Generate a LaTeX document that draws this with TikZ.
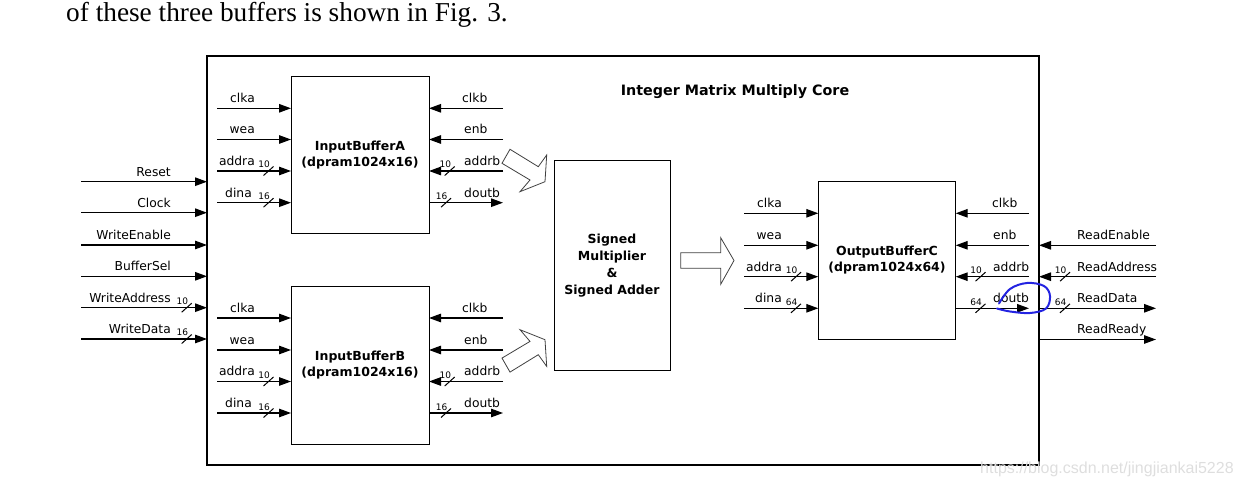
\documentclass[tikz,border=0pt]{standalone}
\usepackage{fontspec}
\setmainfont{DejaVu Sans}
\newfontfamily\serifcap{Liberation Serif}
\newfontfamily\wmfont{Liberation Sans}
\usetikzlibrary{arrows.meta}
\definecolor{annot}{RGB}{35,35,225}
\definecolor{wmgray}{RGB}{222,222,222}
\newcommand\sigIn[4]{\coordinate (#1) at (#2,#3); \draw[sig] (#1) -- (#1 -| #4);}
\newcommand\sigOut[4]{\coordinate (#1) at (#2,#3); \draw[sig] (#1 -| #4) -- (#1);}
\newcommand\lblE[4]{\node[lbl,anchor=base east] (#1) at (#2,{#3-5.5}) {#4};}
\newcommand\lblW[4]{\node[lbl,anchor=base west] (#1) at (#2,{#3-5.5}) {#4};}
\newcommand\busw[4]{\node[busn,anchor=base east] (#1) at ({#2+1.5},{#3-3}) {#4}; \draw[slash] ({#2-5},{#3+4.5}) -- ({#2+5},{#3-4.5});}
\begin{document}
\begin{tikzpicture}[x=1pt,y=-1pt,
  sig/.style={line width=1.2pt,-{Triangle[length=12pt,width=8.5pt]}},
  slash/.style={line width=1pt},
  lbl/.style={font=\fontsize{12.3}{14}\selectfont,inner sep=0pt},
  busn/.style={font=\fontsize{9}{10}\selectfont,inner sep=0pt},
  box/.style={draw,line width=1pt,outer sep=0pt,inner sep=0pt,align=center,
    font=\bfseries\fontsize{12.5}{16}\selectfont},
  blockarrow/.style={draw=black!75,line width=0.8pt,fill=white}]
\useasboundingbox (0,0) rectangle (1243,486);
% caption line and watermark
\node[font=\serifcap\fontsize{27.3}{30}\selectfont,anchor=base west,inner sep=0pt] (cap) at (66,22) {of these three buffers is shown in Fig. 3.};
% outer box
\node[draw,line width=2.5pt,outer sep=0pt,minimum width=832pt,minimum height=409pt] (outer) at (623,260.5) {};
\node[font=\bfseries\fontsize{14.3}{16}\selectfont] (title) at (735,92) {Integer Matrix Multiply Core};
% blocks
\node[box,minimum width=138pt,minimum height=157pt] (bufA) at (360,155.3) {InputBufferA\\(dpram1024x16)};
\node[box,minimum width=138pt,minimum height=157pt] (bufB) at (360,365.5) {InputBufferB\\(dpram1024x16)};
\node[box,minimum width=116pt,minimum height=210pt,font=\bfseries\fontsize{12.5}{17}\selectfont] (alu) at (612,265.7) {Signed\\Multiplier\\\&\\Signed Adder};
\node[box,minimum width=137.4pt,minimum height=157.6pt] (bufC) at (887,260.5) {OutputBufferC\\(dpram1024x64)};
% block arrows
\draw[blockarrow] (502,163.3) -- (510,149.3) -- (538.3,166.7) -- (546.7,155) -- (545,181.7) -- (520,191.7) -- (530,180) -- cycle;
\draw[blockarrow] (502,358.1) -- (510,372.1) -- (538.3,354.7) -- (546.7,366.4) -- (545,339.7) -- (520,329.7) -- (530,341.4) -- cycle;
\draw[blockarrow] (680.7,252.7) -- (720.7,252.7) -- (720.7,237.7) -- (734,260.5) -- (720.7,284.3) -- (720.7,268.3) -- (680.7,268.3) -- cycle;
% outer left signals
\sigIn{oL1}{81}{181.7}{outer.west} \lblE{oL1t}{171}{181.7}{Reset}
\sigIn{oL2}{81}{212.7}{outer.west} \lblE{oL2t}{171}{212.7}{Clock}
\sigIn{oL3}{81}{245}{outer.west} \lblE{oL3t}{171}{245}{WriteEnable}
\sigIn{oL4}{81}{276.3}{outer.west} \lblE{oL4t}{171}{276.3}{BufferSel}
\sigIn{oL5}{81}{307.7}{outer.west} \lblE{oL5t}{171}{307.7}{WriteAddress} \busw{oL5b}{186.7}{307.7}{10}
\sigIn{oL6}{81}{339}{outer.west} \lblE{oL6t}{171}{339}{WriteData} \busw{oL6b}{186.7}{339}{16}
% buffer A
\sigIn{aL1}{217}{108.3}{bufA.west} \lblE{aL1t}{255}{108.3}{clka}
\sigIn{aL2}{217}{139.5}{bufA.west} \lblE{aL2t}{255}{139.5}{wea}
\sigIn{aL3}{217}{171}{bufA.west} \lblE{aL3t}{255}{171}{addra} \busw{aL3b}{268.5}{171}{10}
\sigIn{aL4}{217}{202.7}{bufA.west} \lblE{aL4t}{252}{202.7}{dina} \busw{aL4b}{268.5}{202.7}{16}
\sigIn{aR1}{503}{108.3}{bufA.east} \lblW{aR1t}{462}{108.3}{clkb}
\sigIn{aR2}{503}{139.5}{bufA.east} \lblW{aR2t}{464}{139.5}{enb}
\sigIn{aR3}{503}{171}{bufA.east} \lblW{aR3t}{464}{171}{addrb} \busw{aR3b}{449.7}{171}{10}
\sigOut{aR4}{503}{202.7}{bufA.east} \lblW{aR4t}{464}{202.7}{doutb} \busw{aR4b}{446}{202.7}{16}
% buffer B
\sigIn{bL1}{217}{318}{bufB.west} \lblE{bL1t}{255}{318}{clka}
\sigIn{bL2}{217}{350}{bufB.west} \lblE{bL2t}{255}{350}{wea}
\sigIn{bL3}{217}{381.5}{bufB.west} \lblE{bL3t}{255}{381.5}{addra} \busw{bL3b}{268.5}{381.5}{10}
\sigIn{bL4}{217}{413}{bufB.west} \lblE{bL4t}{252}{413}{dina} \busw{bL4b}{268.5}{413}{16}
\sigIn{bR1}{503}{318}{bufB.east} \lblW{bR1t}{462}{318}{clkb}
\sigIn{bR2}{503}{350}{bufB.east} \lblW{bR2t}{464}{350}{enb}
\sigIn{bR3}{503}{381.5}{bufB.east} \lblW{bR3t}{464}{381.5}{addrb} \busw{bR3b}{449.7}{381.5}{10}
\sigOut{bR4}{503}{413}{bufB.east} \lblW{bR4t}{464}{413}{doutb} \busw{bR4b}{446}{413}{16}
% buffer C
\sigIn{cL1}{744}{213.3}{bufC.west} \lblE{cL1t}{782}{213.3}{clka}
\sigIn{cL2}{744}{245.3}{bufC.west} \lblE{cL2t}{782}{245.3}{wea}
\sigIn{cL3}{744}{276.7}{bufC.west} \lblE{cL3t}{782}{276.7}{addra} \busw{cL3b}{796}{276.7}{10}
\sigIn{cL4}{744}{308.3}{bufC.west} \lblE{cL4t}{782}{308.3}{dina} \busw{cL4b}{796}{308.3}{64}
\sigIn{cR1}{1029}{213.3}{bufC.east} \lblW{cR1t}{992}{213.3}{clkb}
\sigIn{cR2}{1029}{245.3}{bufC.east} \lblW{cR2t}{993}{245.3}{enb}
\sigIn{cR3}{1029}{276.7}{bufC.east} \lblW{cR3t}{993}{276.7}{addrb} \busw{cR3b}{980.5}{276.7}{10}
\sigOut{cR4}{1029}{308.3}{bufC.east} \lblW{cR4t}{993}{308.3}{doutb} \busw{cR4b}{980.5}{308.3}{64}
% outer right signals
\sigIn{oR1}{1156}{245.3}{outer.east} \lblW{oR1t}{1077}{245.3}{ReadEnable}
\sigIn{oR2}{1156}{276.7}{outer.east} \lblW{oR2t}{1077}{276.7}{ReadAddress} \busw{oR2b}{1065}{276.7}{10}
\sigOut{oR3}{1156}{308.3}{outer.east} \lblW{oR3t}{1077}{308.3}{ReadData} \busw{oR3b}{1065}{308.3}{64}
\sigOut{oR4}{1156}{339.5}{outer.east} \lblW{oR4t}{1077}{339.5}{ReadReady}
% hand-drawn annotation
\draw[annot,line width=2pt,line cap=round] plot[smooth,tension=0.6] coordinates {(999,303.5) (1010,289) (1027,283) (1044,286) (1050,296) (1046,308.5) (1030,313) (1010,311.5) (997,308.5)};
% watermark
\node[font=\wmfont\fontsize{16}{18}\selectfont,text=wmgray,anchor=base west,inner sep=0pt] (wm) at (980,473) {https://blog.csdn.net/jingjiankai5228};
\end{tikzpicture}
\end{document}
